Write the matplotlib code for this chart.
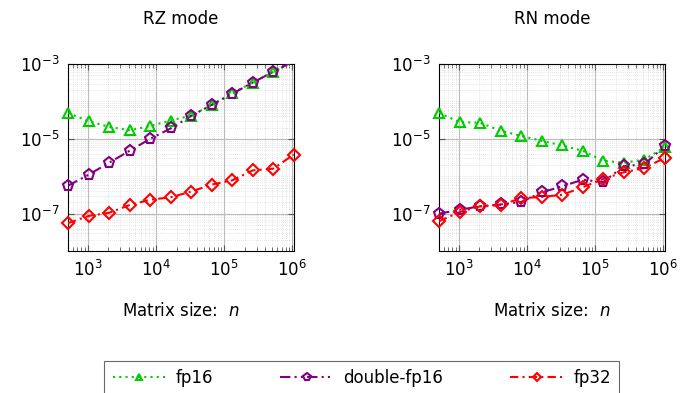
import numpy as np
import matplotlib.pyplot as plt
from matplotlib.lines import Line2D
from matplotlib.ticker import LogLocator, NullFormatter

# matrix sizes n = 2^9 ... 2^20
n = [2 ** k for k in range(9, 21)]

# RZ mode
rz_fp16 = [4.9e-5, 3.0e-5, 2.1e-5, 1.7e-5, 2.2e-5, 3.1e-5, 4.2e-5, 8.1e-5,
           1.66e-4, 3.2e-4, 6.2e-4, 1.2e-3]
rz_dfp16 = [5.6e-7, 1.1e-6, 2.3e-6, 4.8e-6, 1.0e-5, 1.9e-5, 4.1e-5, 8.1e-5,
            1.6e-4, 3.2e-4, 6.2e-4, 1.2e-3]
rz_fp32 = [5.6e-8, 8.7e-8, 1.06e-7, 1.7e-7, 2.36e-7, 2.75e-7, 3.9e-7, 6.0e-7,
           7.8e-7, 1.44e-6, 1.6e-6, 3.8e-6]

# RN mode
rn_fp16 = [5.0e-5, 2.8e-5, 2.7e-5, 1.66e-5, 1.2e-5, 8.9e-6, 6.7e-6, 4.8e-6,
           2.6e-6, 2.3e-6, 2.8e-6, 6.0e-6]
rn_dfp16 = [1.0e-7, 1.27e-7, 1.58e-7, 1.77e-7, 2.05e-7, 3.7e-7, 5.4e-7, 8.1e-7,
            7.0e-7, 1.86e-6, 2.1e-6, 6.3e-6]
rn_fp32 = [6.3e-8, 1.1e-7, 1.58e-7, 1.7e-7, 2.6e-7, 2.8e-7, 3.2e-7, 5.1e-7,
           8.5e-7, 1.28e-6, 1.66e-6, 3.1e-6]

labels = ['fp16', 'double-fp16', 'fp32']
colors = ['#00cc00', '#800080', '#ff0000']
markers = ['^', 'p', 'D']
dashes = [(0, (1, 2)), (0, (5, 2, 1, 2, 1, 2)), (0, (4, 2, 1, 2))]
msizes = [7, 8, 6]

plt.rcParams['font.family'] = 'DejaVu Sans'
plt.rcParams['mathtext.fontset'] = 'dejavusans'

fig = plt.figure(figsize=(6.8, 3.93), dpi=100)
ax1 = fig.add_axes([0.1, 0.361, 0.332, 0.476])
ax2 = fig.add_axes([0.6456, 0.361, 0.332, 0.476])

ylo, yhi = 1e-8, 1e-3

for ax, title, series in [(ax1, 'RZ mode', [rz_fp16, rz_dfp16, rz_fp32]),
                          (ax2, 'RN mode', [rn_fp16, rn_dfp16, rn_fp32])]:
    for ys, c, m, ls, ms in zip(series, colors, markers, dashes, msizes):
        ax.plot(n, ys, color=c, ls=ls, lw=1.5, zorder=3)
        # markers on the border are drawn whole, points outside are dropped
        keep = [(x, y) for x, y in zip(n, ys) if ylo <= y <= yhi]
        ax.plot([p[0] for p in keep], [p[1] for p in keep], ls='none',
                marker=m, ms=ms, mfc='none', mec=c, mew=1.5,
                clip_on=False, zorder=4)
    ax.set_xscale('log')
    ax.set_yscale('log')
    ax.set_xlim(n[0], n[-1])
    ax.set_ylim(ylo, yhi)
    ax.xaxis.set_major_locator(LogLocator(base=10, numticks=10))
    ax.xaxis.set_minor_locator(LogLocator(base=10, subs=np.arange(2, 10), numticks=20))
    ax.xaxis.set_minor_formatter(NullFormatter())
    ax.set_yticks([1e-7, 1e-5, 1e-3])
    ax.yaxis.set_minor_locator(LogLocator(base=10, subs=np.arange(1, 10), numticks=20))
    ax.yaxis.set_minor_formatter(NullFormatter())
    ax.tick_params(which='both', direction='in', top=True, right=True,
                   labelsize=12, color='#555555')
    ax.tick_params(which='major', length=4, pad=6)
    ax.tick_params(which='minor', length=3)
    ax.tick_params(axis='y', which='minor', length=0)
    ax.grid(which='major', color='#bbbbbb', lw=0.8)
    ax.grid(which='minor', color='#cccccc', lw=0.5, ls=(0, (1, 2)))
    ax.set_axisbelow(True)
    ax.set_title(title, fontsize=12, pad=29)
    ax.set_xlabel('Matrix size:  $n$', fontsize=12, labelpad=16)
    for s in ax.spines.values():
        s.set_linewidth(0.8)

handles = [Line2D([], [], color=c, ls=ls, lw=1.5, marker=m, ms=ms - 2,
                  mfc='none', mec=c, mew=1.5)
           for c, m, ls, ms in zip(colors, markers, dashes, msizes)]
leg = fig.legend(handles, labels, loc='upper center', bbox_to_anchor=(0.532, 0.103),
                 ncol=3, frameon=True, fancybox=False, fontsize=12,
                 handlelength=3.2, columnspacing=4.0, borderpad=0.5,
                 handletextpad=0.6)
leg.get_frame().set_edgecolor('#444444')
leg.get_frame().set_linewidth(0.8)

fig.savefig('out.png', dpi=100)
